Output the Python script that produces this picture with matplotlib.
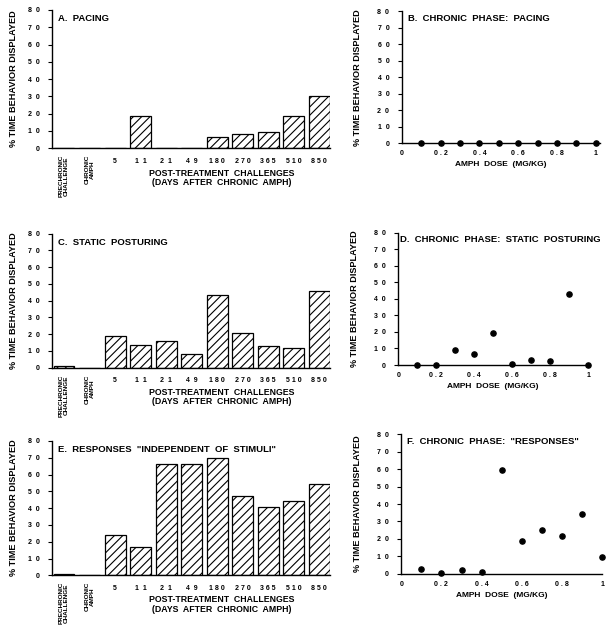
import matplotlib.pyplot as plt
import numpy as np

plt.rcParams['font.family'] = ['Liberation Sans', 'DejaVu Sans']
plt.rcParams['font.weight'] = 'bold'
plt.rcParams['axes.labelweight'] = 'bold'
plt.rcParams['hatch.linewidth'] = 0.8

# bar chart categories (left column)
categories = ['PRECHRONIC\nCHALLENGE', 'CHRONIC\nAMPH', '5', '1  1', '2  1', '4  9',
              '1 8 0', '2 7 0', '3 6 5', '5 1 0', '8 5 0']
pacing = [0, 0, 0, 18.5, 0, 0, 6.2, 8.1, 9.5, 18.5, 30]
posturing = [0.8, 0, 18.7, 13.3, 15.7, 7.8, 43.6, 20.9, 12.7, 11.7, 46]
responses = [0.5, 0, 24.1, 17.0, 66.5, 66.3, 70.1, 47.5, 40.8, 44.3, 54.4]

# chronic phase dose-response (right column)
dose = [0.1, 0.2, 0.3, 0.4, 0.5, 0.6, 0.7, 0.8, 0.9, 1.0]
chronic_pacing = [0, 0, 0, 0, 0, 0, 0, 0, 0, 0]
chronic_posturing = [0, 0, 8.8, 6.4, 19.1, 0.5, 3.2, 2.6, 43, 0]
chronic_responses = [2.5, 0.6, 1.9, 1.0, 59.3, 18.9, 24.9, 21.6, 34.4, 9.6]

yticks = [0, 10, 20, 30, 40, 50, 60, 70, 80]
ytick_labels = ['0', '1  0', '2  0', '3  0', '4  0', '5  0', '6  0', '7  0', '8  0']
xticks_dose = [0, 0.2, 0.4, 0.6, 0.8, 1]
xtick_dose_labels = ['0', '0 . 2', '0 . 4', '0 . 6', '0 . 8', '1']
ylab = '% TIME BEHAVIOR DISPLAYED'

fig = plt.figure(figsize=(6.07, 6.25), dpi=100)


def style(ax, ylabpad):
    ax.spines['top'].set_visible(False)
    ax.spines['right'].set_visible(False)
    ax.spines['left'].set_linewidth(1.0)
    ax.spines['bottom'].set_linewidth(1.0)
    ax.set_ylim(0, 80)
    ax.set_yticks(yticks)
    ax.set_yticklabels(ytick_labels, fontsize=5)
    ax.tick_params(axis='y', length=3, width=0.8, pad=6)
    ax.set_ylabel(ylab, fontsize=6.6, labelpad=ylabpad)


def bar_panel(rect, values, title):
    ax = fig.add_axes(rect)
    x = np.arange(len(categories))
    ax.bar(x, values, width=0.82, color='white', edgecolor='black',
           linewidth=0.9, hatch='////')
    ax.set_xlim(-0.47, 10.42)
    style(ax, 7)
    ax.set_xticks(x[2:])
    ax.set_xticklabels(categories[2:], fontsize=5)
    ax.tick_params(axis='x', length=0, pad=7)
    for i in range(2):
        ax.text(x[i], -4, categories[i], rotation=90, ha='center', va='top',
                fontsize=4.6, linespacing=0.95, transform=ax.transData)
    ax.text(0.61, -0.15, 'POST-TREATMENT  CHALLENGES\n(DAYS  AFTER  CHRONIC  AMPH)',
            transform=ax.transAxes, ha='center', va='top', fontsize=6.3,
            linespacing=1.05)
    ax.text(0.02, 0.97, title, transform=ax.transAxes, ha='left', va='top',
            fontsize=6.8)
    return ax


def dot_panel(rect, values, title, xmax, tx=0.03):
    ax = fig.add_axes(rect)
    ax.scatter(dose, values, s=14, color='black', zorder=3, clip_on=False)
    ax.set_xlim(0, xmax)
    style(ax, 11)
    ax.set_xticks(xticks_dose)
    ax.set_xticklabels(xtick_dose_labels, fontsize=5)
    ax.tick_params(axis='x', length=0, pad=5)
    ax.set_xlabel('AMPH  DOSE  (MG/KG)', fontsize=6, labelpad=3)
    ax.text(tx, 0.98, title, transform=ax.transAxes, ha='left', va='top',
            fontsize=6.8)
    return ax


bar_panel([0.0857, 0.763, 0.458, 0.221], pacing, 'A.  PACING')
bar_panel([0.0857, 0.412, 0.458, 0.214], posturing, 'C.  STATIC  POSTURING')
bar_panel([0.0857, 0.0795, 0.458, 0.215], responses,
          'E.  RESPONSES  "INDEPENDENT  OF  STIMULI"')

dot_panel([0.662, 0.771, 0.326, 0.211], chronic_pacing,
          'B.  CHRONIC  PHASE:  PACING', 1.02)
dot_panel([0.656, 0.416, 0.313, 0.212], chronic_posturing,
          'D.  CHRONIC  PHASE:  STATIC  POSTURING', 1.0, tx=0.012)
dot_panel([0.661, 0.082, 0.331, 0.223], chronic_responses,
          'F.  CHRONIC  PHASE:  "RESPONSES"', 1.0)

fig.savefig('out.png', dpi=100)
